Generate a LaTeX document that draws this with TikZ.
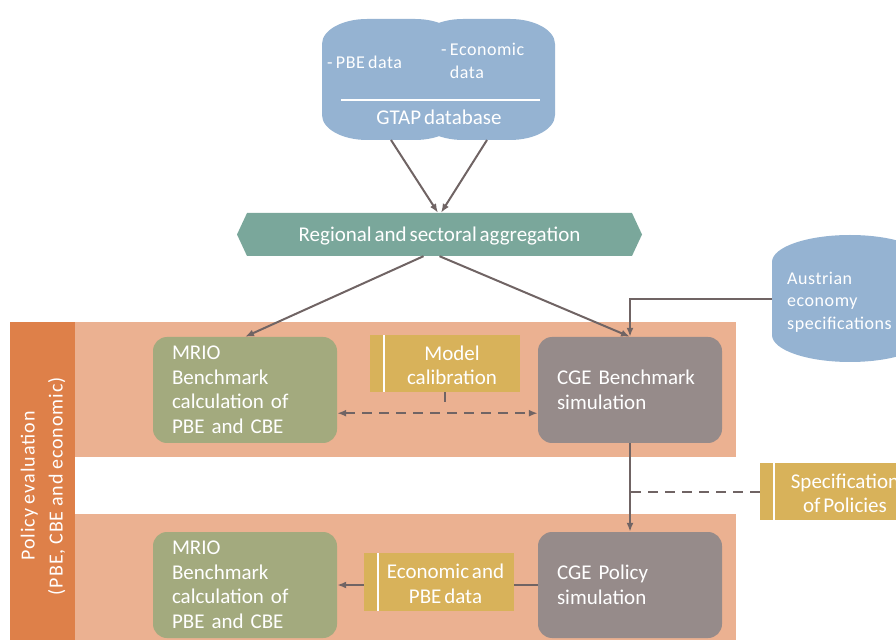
\documentclass[tikz,border=0pt]{standalone}
\usepackage{fontspec}
\setmainfont{Carlito}[WordSpace=0.6]
\newfontfamily\spacedfont[LetterSpace=3,WordSpace=0.7]{Carlito}
\newfontfamily\widefont[LetterSpace=5,WordSpace=0.8]{Carlito}
\usetikzlibrary{shapes.symbols,arrows.meta}

\definecolor{dbblue}{RGB}{149,179,210}
\definecolor{aggteal}{RGB}{122,167,155}
\definecolor{barorange}{RGB}{222,128,73}
\definecolor{panelsalmon}{RGB}{235,177,145}
\definecolor{mriogreen}{RGB}{163,170,126}
\definecolor{cgegray}{RGB}{150,139,138}
\definecolor{noteyellow}{RGB}{216,178,90}
\definecolor{linegray}{RGB}{112,100,100}

\begin{document}
\begin{tikzpicture}[x=1pt,y=1pt,>={Latex[length=9pt,width=7pt]},
  conn/.style={draw=linegray,line width=2pt},
  dashconn/.style={conn,dash pattern=on 10pt off 7pt},
  txt/.style={text=white,font=\fontsize{21}{24.5}\selectfont},
  smalltxt/.style={text=white,font=\spacedfont\fontsize{18}{22.5}\selectfont,inner sep=0pt},
  roundbox/.style={txt,rounded corners=14pt,minimum width=184pt,minimum height=106pt,
    text width=146pt,align=left,inner sep=0pt},
  notebox/.style={fill=noteyellow,minimum width=150pt,minimum height=57pt,inner sep=0pt,
    path picture={\draw[white,line width=1.2pt]
      ([xshift=14pt]path picture bounding box.north west) --
      ([xshift=14pt]path picture bounding box.south west);}},
  notetext/.style={txt,align=center,xshift=7pt,yshift=-2pt}]

\useasboundingbox (0,0) rectangle (896,640);
\clip (0,0) rectangle (896,640);

% panels
\fill[barorange] (10,0) rectangle (75,318);
\fill[panelsalmon] (75,183) rectangle (736,318);
\fill[panelsalmon] (75,0) rectangle (736,126);

% databases
\foreach \l/\r/\t/\b/\rx/\ry in {322/460/621/500/45/25, 418/555/621/500/45/25, 772/928/405/278/78/27}
{
    \fill[dbblue] (\l,\t-\ry) arc[start angle=180,end angle=90,x radius=\rx,y radius=\ry]
      -- (\r-\rx,\t) arc[start angle=90,end angle=0,x radius=\rx,y radius=\ry]
      -- (\r,\b+\ry) arc[start angle=0,end angle=-90,x radius=\rx,y radius=\ry]
      -- (\l+\rx,\b) arc[start angle=-90,end angle=-180,x radius=\rx,y radius=\ry] -- cycle;
}
\draw[white,line width=1.2pt] (341,540) -- (540,540);
\node[smalltxt,anchor=west] (pbe) at (327,578) {- PBE data};
\node[smalltxt,anchor=west,align=left] (eco) at (441,579) {- Economic\\\phantom{- }data};
\node[txt] (gtap) at (439,523) {GTAP database};
\coordinate (gtapL) at (391,500);
\coordinate (gtapR) at (487,500);

\node[smalltxt,anchor=west,align=left] (aus) at (787,338) {Austrian\\economy\\specifications};
\coordinate (ausW) at (772,341);

% aggregation
\node[txt,shape=signal,signal to=west and east,signal pointer angle=130,fill=aggteal,
  minimum width=405pt,minimum height=43pt,inner sep=0pt,text depth=0pt] (agg) at (439.5,405.5)
  {Regional and sectoral aggregation};

% boxes
\node[roundbox,fill=mriogreen] (mrioA) at (245,250) {MRIO\\Benchmark\\calculation of\\PBE and CBE};
\node[roundbox,fill=mriogreen] (mrioB) at (245,55) {MRIO\\Benchmark\\calculation of\\PBE and CBE};
\node[roundbox,fill=cgegray] (cgeA) at (630,250) {CGE Benchmark\\simulation};
\node[roundbox,fill=cgegray] (cgeB) at (630,55) {CGE Policy\\simulation};

\node[notebox,label={[notetext]center:Model\\calibration}] (calib) at (445,276.5) {};
\node[notebox,minimum height=58pt,label={[notetext,xshift=-0.5pt]center:Economic and\\PBE data}] (econ) at (439,58) {};
\node[notebox,minimum width=156pt,label={[notetext]center:Specification\\of Policies}] (spec) at (838,148.5) {};

\node[txt,rotate=90,align=center,font=\widefont\fontsize{20}{28}\selectfont] (policy) at (43,154)
  {Policy evaluation\\(PBE, CBE and economic)};

% connectors
\draw[conn,->] (gtapL) -- ([xshift=-1.5pt]agg.north);
\draw[conn,->] (gtapR) -- ([xshift=1.5pt]agg.north);
\draw[conn,->] ([xshift=-16pt]agg.south) -- (mrioA.north);
\draw[conn,->] (agg.south) -- (cgeA.north);
\draw[conn,->] (ausW) -| (cgeA.north);

\coordinate (link) at ([yshift=-21pt]calib.south);
\draw[dashconn,shorten >=10pt] (calib.south) -- (link);
\draw[dashconn,<->] (mrioA.east |- link) -- (cgeA.west |- link);

\draw[conn,->] (cgeA.south) -- (cgeB.north);
\draw[dashconn] (spec.west) -- (spec.west -| cgeA.south);

\draw[conn] (cgeB.west) -- (econ.east |- cgeB.west);
\draw[conn,->] (econ.west |- cgeB.west) -- (mrioB.east);
\end{tikzpicture}
\end{document}
